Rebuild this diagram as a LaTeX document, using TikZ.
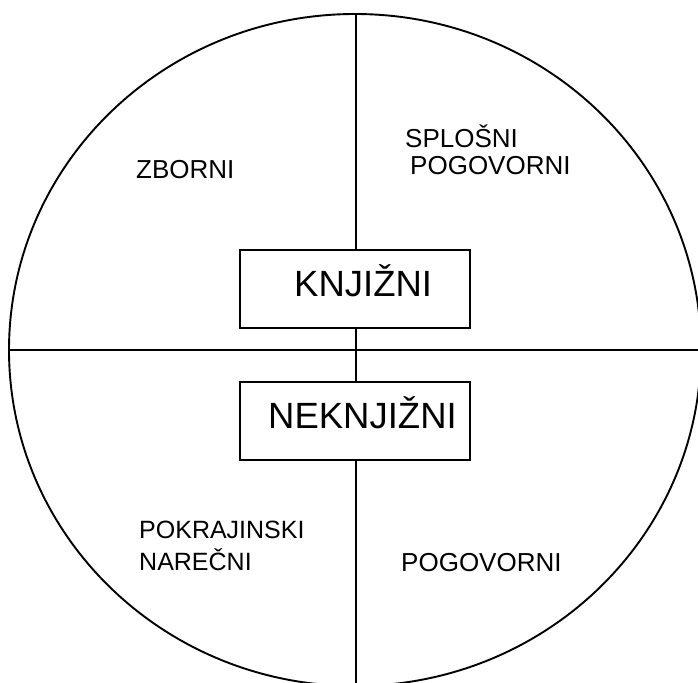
\documentclass[tikz,border=0pt]{standalone}
\usepackage{fontspec}
\setmainfont{Liberation Sans}
\begin{document}
\begin{tikzpicture}[x=1pt,y=-1pt,
  ln/.style={line width=1.9pt, black},
  box/.style={draw, line width=1.9pt, fill=white, minimum width=230pt, minimum height=78pt, inner sep=0pt},
  lbl/.style={anchor=base west, inner sep=0pt, font=\fontsize{26}{30}\selectfont},
  lbls/.style={anchor=base west, inner sep=0pt, font=\fontsize{25}{30}\selectfont},
  big/.style={anchor=base west, inner sep=0pt, font=\fontsize{36.5}{42}\selectfont}]
\useasboundingbox (0,0) rectangle (698,682);
\begin{scope}
  \clip (0,0) rectangle (698,682);
  \draw[ln] (355,350) ellipse [x radius=346, y radius=336];
  \coordinate (vtop) at (356,14);
  \coordinate (vbot) at (356,690);
  \coordinate (hl) at (9,350);
  \coordinate (hr) at (705,350);
  \draw[ln] (vtop) -- (vbot);
  \draw[ln] (hl) -- (hr);
\end{scope}
\node[box] (knjbox) at (355,289) {};
\node[box] (neknjbox) at (355,421) {};
\node[big] (knj) at (294,296) {KNJIŽNI};
\node[big] (neknj) at (268,428) {NEKNJIŽNI};
\node[lbl] (zb) at (136,178) {ZBORNI};
\node[lbl] (spl) at (405,147) {SPLOŠNI};
\node[lbl] (pog1) at (410,174) {POGOVORNI};
\node[lbls] (pok) at (139,538) {POKRAJINSKI};
\node[lbls] (nar) at (139,570) {NAREČNI};
\node[lbl] (pog2) at (401,571) {POGOVORNI};
\end{tikzpicture}
\end{document}
